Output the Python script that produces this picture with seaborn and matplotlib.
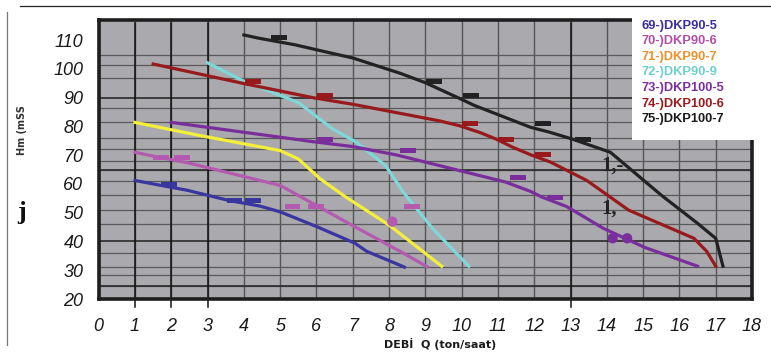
import pandas as pd
import seaborn as sns
import matplotlib.pyplot as plt
from matplotlib.lines import Line2D
from matplotlib.patches import Rectangle

# Pump curves: flow Q (ton/saat) and head Hm (mSS)
models = ['69-)DKP90-5', '70-)DKP90-6', '71-)DKP90-7', '72-)DKP90-9',
          '73-)DKP100-5', '74-)DKP100-6', '75-)DKP100-7']

q_69 = [1.0, 1.46, 2.44, 3.57, 4.44, 5.0, 6.0, 7.06, 7.38, 8.42]
h_69 = [61.2, 60.1, 57.8, 54.3, 52.3, 50.3, 45.2, 39.4, 36.6, 31.1]

q_70 = [1.0, 1.5, 2.47, 5.0, 5.5, 7.0, 8.3, 9.05]
h_70 = [71.0, 69.7, 67.3, 59.5, 56.0, 45.5, 36.6, 31.2]

q_71 = [1.0, 2.8, 5.0, 5.5, 6.1, 6.8, 8.0, 9.45]
h_71 = [81.4, 76.8, 71.6, 68.7, 61.8, 55.5, 45.7, 31.4]

q_72 = [3.0, 4.0, 5.5, 6.45, 7.1, 7.9, 8.4, 9.2, 10.2]
h_72 = [102.1, 95.7, 88.3, 79.1, 74.5, 66.4, 57.0, 44.5, 31.4]

q_73 = [2.0, 5.9, 7.0, 8.2, 9.0, 11.2, 11.9, 12.2, 12.9, 13.9, 15.05, 16.5]
h_73 = [81.4, 74.7, 73.0, 70.1, 67.6, 60.7, 57.4, 55.5, 52.1, 44.6, 37.9, 31.4]

q_74 = [1.5, 4.0, 4.7, 5.9, 7.0, 9.4, 9.95, 10.5, 10.95, 11.4, 11.95, 12.45,
        13.45, 14.6, 16.4, 16.75, 17.0]
h_74 = [101.7, 94.9, 93.1, 90.0, 87.7, 81.9, 80.2, 77.9, 75.6, 72.8, 69.9, 67.6,
        61.2, 50.9, 41.1, 36.6, 31.4]

q_75 = [4.0, 4.4, 5.4, 6.4, 7.0, 8.3, 9.0, 10.0, 10.35, 11.9, 12.45, 13.05,
        14.1, 15.5, 16.5, 17.0, 17.2]
h_75 = [111.8, 110.7, 108.4, 105.5, 103.8, 98.5, 95.2, 89.4, 87.3, 79.7, 77.9, 75.6,
        71.0, 56.1, 46.3, 41.1, 31.4]

# short bar marks sitting on the curves
dash_q_69 = [1.93, 3.74, 4.25]
dash_h_69 = [59.8, 54.3, 54.3]
dash_q_70 = [1.72, 2.29, 5.34, 5.99, 8.63]
dash_h_70 = [69.3, 69.3, 52.1, 52.1, 52.1]
dash_q_73 = [6.24, 8.53, 11.56, 12.58]
dash_h_73 = [75.6, 71.6, 62.1, 55.2]
dash_q_74 = [4.25, 6.24, 10.24, 11.23, 12.24]
dash_h_74 = [95.7, 90.8, 81.0, 75.6, 70.4]
dash_q_75 = [4.97, 9.24, 10.26, 12.24, 13.35]
dash_h_75 = [111.0, 95.7, 90.8, 81.0, 75.6]

dot_q_73 = [14.16, 14.56]
dot_h_73 = [41.1, 41.1]
dot_q_70 = [8.09]
dot_h_70 = [46.9]

x_ticks = list(range(0, 19))
y_ticks = list(range(20, 111, 10))
h_grid = [24.5, 28.5, 31, 36, 40, 46, 51, 56, 61, 64.7, 68, 72, 76, 81.5,
          86.5, 90, 97, 101.5, 105, 110]

line_colors = {
    models[0]: '#3a36a0', models[1]: '#b45ab0', models[2]: '#f4ef3a',
    models[3]: '#7ed8d8', models[4]: '#7a2e9c', models[5]: '#981a1c',
    models[6]: '#222222',
}
text_colors = ['#3b2f9a', '#b04fa8', '#f0902a', '#6fcfcf', '#7b2f9f', '#991b1b', '#1a1a1a']

curves = pd.concat([
    pd.DataFrame({'model': m, 'Q': q, 'H': h})
    for m, q, h in zip(models, [q_69, q_70, q_71, q_72, q_73, q_74, q_75],
                       [h_69, h_70, h_71, h_72, h_73, h_74, h_75])
])
dashes = pd.concat([
    pd.DataFrame({'model': m, 'Q': q, 'H': h})
    for m, q, h in [(models[0], dash_q_69, dash_h_69), (models[1], dash_q_70, dash_h_70),
                    (models[4], dash_q_73, dash_h_73), (models[5], dash_q_74, dash_h_74),
                    (models[6], dash_q_75, dash_h_75)]
])
dots = pd.concat([
    pd.DataFrame({'model': models[4], 'Q': dot_q_73, 'H': dot_h_73}),
    pd.DataFrame({'model': models[1], 'Q': dot_q_70, 'H': dot_h_70}),
])

fig = plt.figure(figsize=(7.71, 3.54), dpi=100)
ax = fig.add_axes([98.7 / 771, 1 - 299 / 354, (752 - 98.7) / 771, (299 - 20) / 354])
ax.set_facecolor('#aaaaae')

sns.lineplot(data=curves, x='Q', y='H', hue='model', palette=line_colors, sort=False,
             estimator=None, linewidth=2.3, legend=True, ax=ax, zorder=3)

rect = [(-1.6, -0.5), (1.6, -0.5), (1.6, 0.5), (-1.6, 0.5), (-1.6, -0.5)]
sns.scatterplot(data=dashes, x='Q', y='H', hue='model', palette=line_colors, marker=rect,
                s=130, linewidth=0, legend=False, ax=ax, zorder=4)
sns.scatterplot(data=dots, x='Q', y='H', hue='model', palette=line_colors, marker='o',
                s=55, linewidth=0, legend=False, ax=ax, zorder=4)

ax.set_xlim(0, 18)
ax.set_ylim(20.8, 117)
ax.set_xticks(x_ticks)
ax.set_yticks(y_ticks)
ax.set_yticks(h_grid, minor=True)
ax.grid(axis='x', which='major', color='#555555', linewidth=1.0, zorder=1)
ax.grid(axis='y', which='minor', color='#5a5a5a', linewidth=0.9, zorder=1)
ax.set_axisbelow(True)
for y in [24.5, 40, 64.7, 90]:
    ax.axhline(y, color='#2a2a2a', linewidth=1.2, zorder=1.5)
for x in [1, 2, 3, 13]:
    ax.axvline(x, ymin=-0.03, ymax=0.99, color='#111111', linewidth=1.1, zorder=1.5,
               clip_on=False)

ax.tick_params(axis='both', which='both', length=0)
ax.tick_params(axis='x', pad=14)
ax.tick_params(axis='y', pad=11)
for lab in ax.get_xticklabels() + ax.get_yticklabels():
    lab.set_fontfamily('Liberation Sans')
    lab.set_fontstyle('italic')
    lab.set_fontsize(13)
    lab.set_color('#1a1a1a')
ax.set_xlabel('')
ax.set_ylabel('')
for sp in ax.spines.values():
    sp.set_linewidth(2.6)
    sp.set_color('#1e1e1e')

# scanned glyph debris on the sheet
ax.text(13.85, 66.5, '1,-', fontsize=15, fontweight='bold', family='Liberation Serif',
        color='#222222', ha='left', va='center', zorder=5)
ax.text(13.85, 51.5, '1,', fontsize=15, fontweight='bold', family='Liberation Serif',
        color='#222222', ha='left', va='center', zorder=5)

fig.text(22 / 771, 1 - 130 / 354, 'Hm (mSS', rotation=90, fontsize=7, fontweight='bold',
         color='#333333', ha='center', va='center')
fig.text(22 / 771, 1 - 212 / 354, 'j', fontsize=19, fontweight='bold',
         family='Liberation Serif', color='#111111', ha='center', va='center')
fig.text(440 / 771, 1 - 344 / 354, 'DEBİ  Q (ton/saat)', fontsize=8, fontweight='bold',
         color='#1a1a1a', ha='center', va='center')

# page frame
fig.add_artist(Line2D([20 / 771, 1], [1 - 6 / 354, 1 - 6 / 354], color='#222222', linewidth=0.9))
fig.add_artist(Line2D([7 / 771, 7 / 771], [1 - 12 / 354, 1 - 345 / 354], color='#777777',
                      linewidth=0.9))

# white legend panel over the top right corner
fig.add_artist(Rectangle((632 / 771, 1 - 140 / 354), 139 / 771, 130 / 354,
                         facecolor='white', edgecolor='none', zorder=5))
handles, labels = ax.get_legend_handles_labels()
ax.get_legend().remove()
leg = fig.legend(handles, labels, loc='upper left', bbox_to_anchor=(635 / 771, 1 - 13 / 354),
                 frameon=False, handlelength=0, handletextpad=0, labelspacing=0.28,
                 borderpad=0, labelcolor=text_colors,
                 prop={'family': 'Liberation Sans', 'weight': 'bold', 'size': 9.3})
leg.set_zorder(6)
for h in leg.legend_handles:
    h.set_visible(False)

fig.savefig('out.png', dpi=100)
